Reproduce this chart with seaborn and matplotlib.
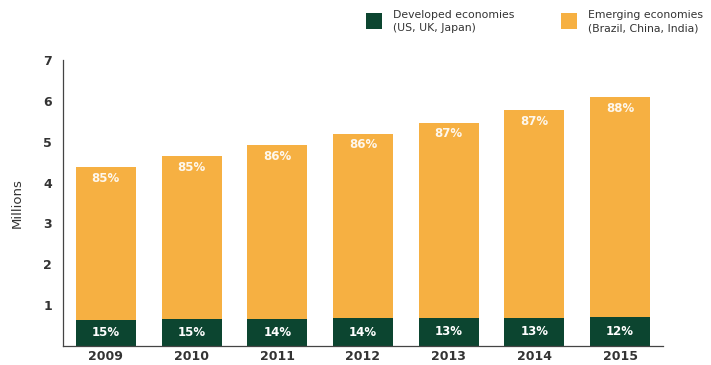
import matplotlib
matplotlib.use("Agg")
import matplotlib.pyplot as plt
import seaborn as sns
import pandas as pd
from matplotlib.patches import Rectangle

years = ["2009", "2010", "2011", "2012", "2013", "2014", "2015"]
developed = [0.64, 0.66, 0.66, 0.68, 0.69, 0.69, 0.71]
emerging = [3.74, 3.99, 4.26, 4.52, 4.78, 5.09, 5.39]
developed_pct = ["15%", "15%", "14%", "14%", "13%", "13%", "12%"]
emerging_pct = ["85%", "85%", "86%", "86%", "87%", "87%", "88%"]
legend_labels = ["Developed economies\n(US, UK, Japan)", "Emerging economies\n(Brazil, China, India)"]
y_ticks = [1, 2, 3, 4, 5, 6, 7]
y_label = "Millions"

DARK = "#0c4530"
ORANGE = "#f6b042"
TEXT = "#333333"

sns.set_theme(style="white")
plt.rcParams["font.family"] = ["Liberation Sans Narrow", "DejaVu Sans"]

df = pd.DataFrame({"year": years, "developed": developed, "emerging": emerging})
df["total"] = df["developed"] + df["emerging"]

fig = plt.figure(figsize=(7.11, 3.65), dpi=100)
ax = fig.add_axes([63/711, 1 - 346/365, 600/711, (346 - 60)/365])

sns.barplot(data=df, x="year", y="total", color=ORANGE, saturation=1, width=0.7,
            linewidth=0, ax=ax)
sns.barplot(data=df, x="year", y="developed", color=DARK, saturation=1, width=0.7,
            linewidth=0, ax=ax)

for i, row in df.iterrows():
    ax.text(i, row["total"] - 0.12, emerging_pct[i], ha="center", va="top",
            color="white", fontsize=8.5, fontweight="bold", alpha=0.9)
    ax.text(i, row["developed"] / 2, developed_pct[i], ha="center", va="center",
            color="white", fontsize=8.5, fontweight="bold")

ax.set_xlim(-0.5, len(years) - 0.5)
ax.set_ylim(0, 7)
ax.set_yticks(y_ticks)
ax.set_yticklabels([str(t) for t in y_ticks], fontsize=9, fontweight="bold", color=TEXT)
ax.set_xticks(range(len(years)))
ax.set_xticklabels(years, fontsize=9, fontweight="bold", color=TEXT)
ax.set_xticks([i + 0.5 for i in range(len(years))], minor=True)
ax.tick_params(axis="x", which="major", length=0, pad=3)
ax.tick_params(axis="x", which="minor", length=3, direction="in", color="#555555", width=0.8)
ax.tick_params(axis="y", which="major", length=4, direction="in", color="#555555", width=0.8, pad=8)
ax.set_xlabel("")
ax.set_ylabel(y_label, fontsize=9.5, color=TEXT, labelpad=14)
for s in ["top", "right"]:
    ax.spines[s].set_visible(False)
for s in ["left", "bottom"]:
    ax.spines[s].set_color("#444444")
    ax.spines[s].set_linewidth(0.9)

# legend
W, H = 711, 365
def fx(x):
    return x / W
def fy(y):
    return 1 - y / H
items = [(366, 393, DARK, legend_labels[0]), (561, 588, ORANGE, legend_labels[1])]
for sx, tx, col, lab in items:
    fig.add_artist(Rectangle((fx(sx), fy(29)), 16 / W, 16 / H, transform=fig.transFigure,
                             facecolor=col, edgecolor="none"))
    fig.text(fx(tx), fy(10), lab, ha="left", va="top", fontsize=7.8, color=TEXT,
             linespacing=1.4)

fig.savefig("out.png", dpi=100)
